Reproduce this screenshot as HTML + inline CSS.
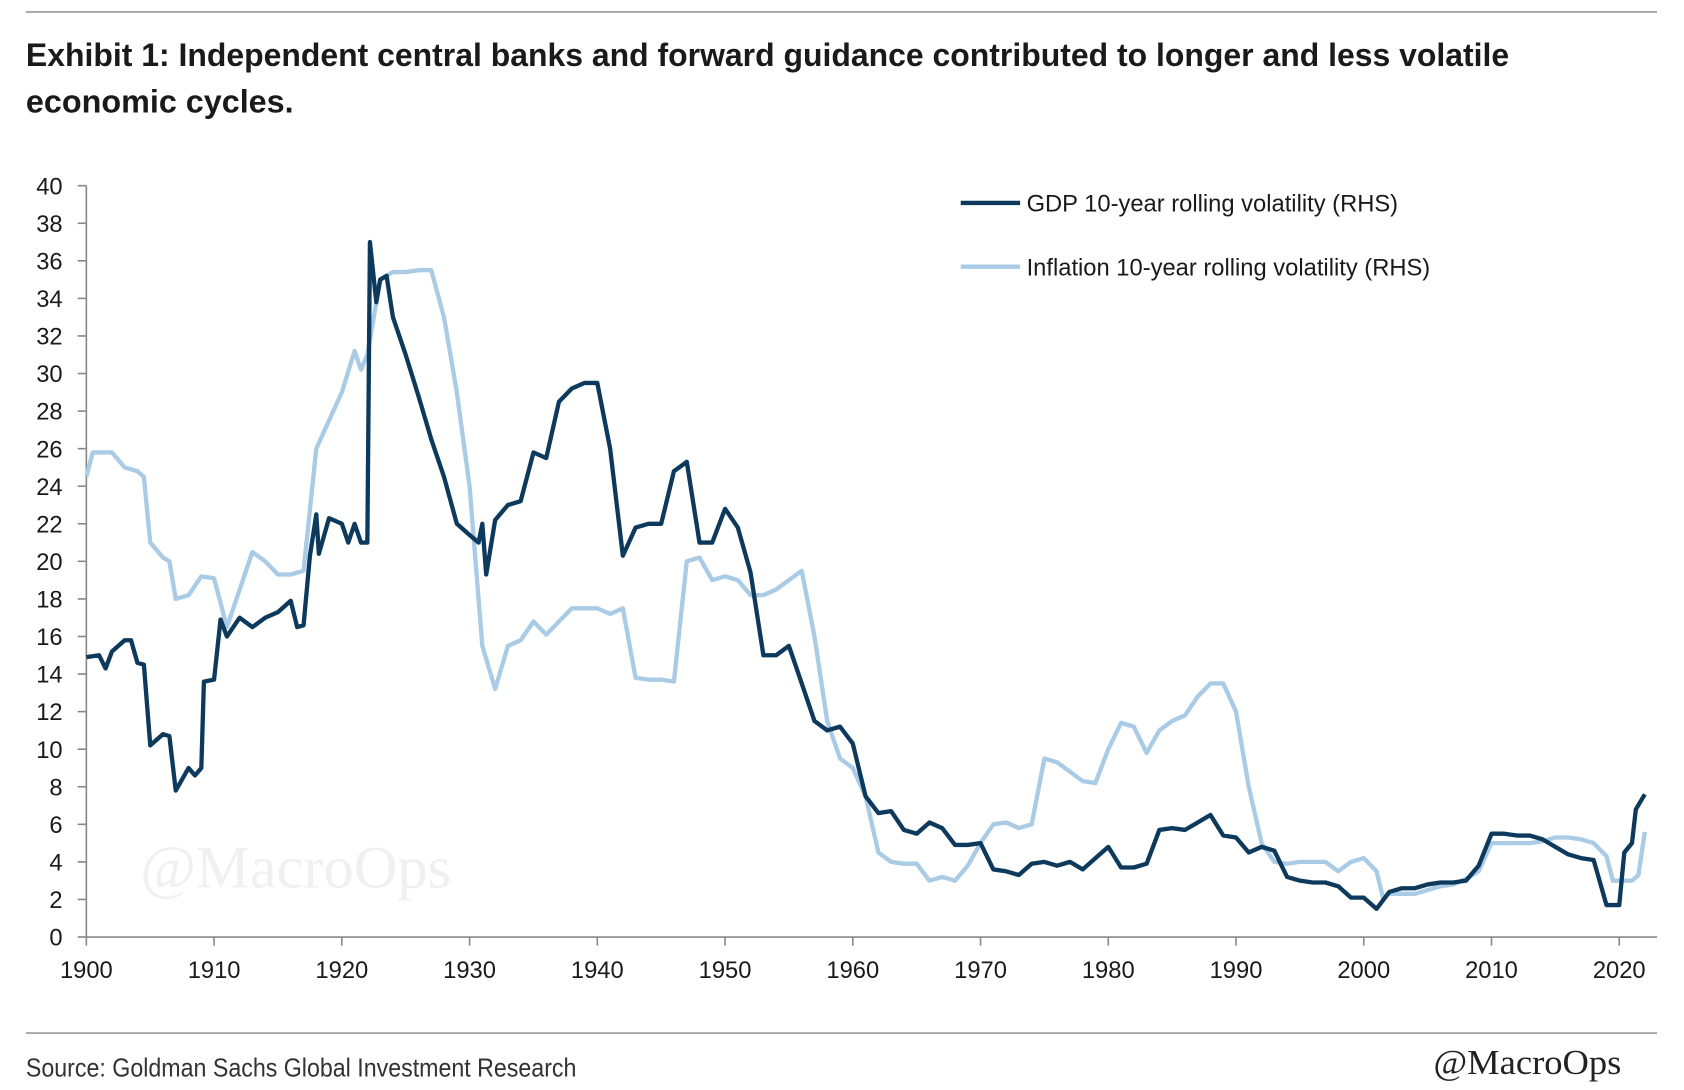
<!DOCTYPE html>
<html><head><meta charset="utf-8"><style>
html,body{margin:0;padding:0;background:#fff;}
svg{display:block;}
text{font-family:"Liberation Sans",sans-serif;}
</style></head><body>
<svg id="chart" width="1684" height="1090" viewBox="0 0 1560 1009.7" xmlns="http://www.w3.org/2000/svg">
<line x1="24" y1="11" x2="1535" y2="11" stroke="#999" stroke-width="1.5"/>
<text x="24" y="61" font-size="30" font-weight="bold" textLength="1374" lengthAdjust="spacingAndGlyphs" fill="#1a1a1a" style="font-family:'Liberation Sans Narrow','Liberation Sans',sans-serif">Exhibit 1: Independent central banks and forward guidance contributed to longer and less volatile</text>
<text x="24" y="104" font-size="30" font-weight="bold" textLength="248" lengthAdjust="spacingAndGlyphs" fill="#1a1a1a" style="font-family:'Liberation Sans Narrow','Liberation Sans',sans-serif">economic cycles.</text>
<text x="130" y="822" font-size="56" fill="#f0f0f0" style="font-family:'Liberation Serif',serif">@MacroOps</text>
<g id="axes"></g>
<g id="series"></g>
<g>
<line x1="890" y1="188" x2="945" y2="188" stroke="#0d3a5c" stroke-width="4"/>
<text x="951" y="196" font-size="22" fill="#1a1a1a">GDP 10-year rolling volatility (RHS)</text>
<line x1="890" y1="247" x2="945" y2="247" stroke="#a9cbe6" stroke-width="4"/>
<text x="951" y="255" font-size="22" fill="#1a1a1a">Inflation 10-year rolling volatility (RHS)</text>
</g>
<line x1="24" y1="957" x2="1535" y2="957" stroke="#999" stroke-width="1.5"/>
<text x="24" y="997" font-size="24" textLength="510" lengthAdjust="spacingAndGlyphs" fill="#333" style="font-family:'Liberation Sans Narrow','Liberation Sans',sans-serif">Source: Goldman Sachs Global Investment Research</text>
<text x="1328" y="995" font-size="32" textLength="174" lengthAdjust="spacingAndGlyphs" fill="#222" style="font-family:'Liberation Serif',serif">@MacroOps</text>
</svg>
<script>
const yTicks = [0,2,4,6,8,10,12,14,16,18,20,22,24,26,28,30,32,34,36,38,40];
const xTicks = [1900,1910,1920,1930,1940,1950,1960,1970,1980,1990,2000,2010,2020];
const gdpYears = [1900,1901,1901.5,1902,1903,1903.5,1904,1904.5,1905,1906,1906.5,1907,1908,1908.5,1909,1909.2,1910,1910.5,1911,1912,1913,1914,1915,1916,1916.5,1917,1917.5,1918,1918.2,1919,1920,1920.5,1921,1921.5,1922,1922.2,1922.7,1923,1923.5,1924,1925,1926,1927,1928,1929,1930,1930.7,1931,1931.3,1932,1933,1934,1935,1936,1937,1938,1939,1940,1941,1942,1943,1944,1945,1946,1947,1948,1949,1950,1951,1952,1953,1954,1955,1956,1957,1958,1959,1960,1961,1962,1963,1964,1965,1966,1967,1968,1969,1970,1971,1972,1973,1974,1975,1976,1977,1978,1979,1980,1981,1982,1983,1984,1985,1986,1987,1988,1989,1990,1991,1992,1993,1994,1995,1996,1997,1998,1999,2000,2001,2002,2003,2004,2005,2006,2007,2008,2009,2010,2011,2012,2013,2014,2015,2016,2017,2018,2019,2020,2020.4,2021,2021.3,2022];
const gdpValues = [14.9,15,14.3,15.2,15.8,15.8,14.6,14.5,10.2,10.8,10.7,7.8,9,8.6,9,13.6,13.7,16.9,16,17,16.5,17,17.3,17.9,16.5,16.6,20.3,22.5,20.4,22.3,22,21,22,21,21,37,33.8,35,35.2,33,31,28.8,26.5,24.5,22,21.4,21,22,19.3,22.2,23,23.2,25.8,25.5,28.5,29.2,29.5,29.5,26,20.3,21.8,22,22,24.8,25.3,21,21,22.8,21.8,19.4,15,15,15.5,13.5,11.5,11,11.2,10.3,7.5,6.6,6.7,5.7,5.5,6.1,5.8,4.9,4.9,5,3.6,3.5,3.3,3.9,4,3.8,4,3.6,4.2,4.8,3.7,3.7,3.9,5.7,5.8,5.7,6.1,6.5,5.4,5.3,4.5,4.8,4.6,3.2,3,2.9,2.9,2.7,2.1,2.1,1.5,2.4,2.6,2.6,2.8,2.9,2.9,3,3.8,5.5,5.5,5.4,5.4,5.2,4.8,4.4,4.2,4.1,1.7,1.7,4.5,5,6.8,7.6];
const infYears = [1900,1900.5,1902,1903,1904,1904.5,1905,1906,1906.5,1907,1908,1909,1910,1911,1912,1913,1914,1915,1916,1917,1918,1919,1920,1921,1921.5,1922,1923,1924,1925,1926,1927,1928,1929,1930,1931,1932,1933,1934,1935,1936,1937,1938,1939,1940,1941,1942,1943,1944,1945,1946,1947,1948,1949,1950,1951,1952,1953,1954,1955,1956,1957,1958,1959,1960,1961,1962,1963,1964,1965,1966,1967,1968,1969,1970,1971,1972,1973,1974,1975,1976,1977,1978,1979,1980,1981,1982,1983,1984,1985,1986,1987,1988,1989,1990,1991,1992,1993,1994,1995,1996,1997,1998,1999,2000,2001,2001.5,2002,2003,2004,2005,2006,2007,2008,2009,2010,2011,2012,2013,2014,2015,2016,2017,2018,2019,2019.5,2020,2021,2021.5,2022];
const infValues = [24.5,25.8,25.8,25,24.8,24.5,21,20.2,20,18,18.2,19.2,19.1,16.5,18.5,20.5,20,19.3,19.3,19.5,26,27.5,29,31.2,30.2,31,35,35.4,35.4,35.5,35.5,33,29,24,15.5,13.2,15.5,15.8,16.8,16.1,16.8,17.5,17.5,17.5,17.2,17.5,13.8,13.7,13.7,13.6,20,20.2,19,19.2,19,18.2,18.2,18.5,19,19.5,16,11.5,9.5,9,7.5,4.5,4,3.9,3.9,3,3.2,3,3.8,5,6,6.1,5.8,6,9.5,9.3,8.8,8.3,8.2,10,11.4,11.2,9.8,11,11.5,11.8,12.8,13.5,13.5,12,8,5,4,3.9,4,4,4,3.5,4,4.2,3.5,2.1,2.3,2.3,2.3,2.5,2.7,2.8,3.1,3.5,5,5,5,5,5.1,5.3,5.3,5.2,5,4.3,3,3,3,3.3,5.6];

const NS='http://www.w3.org/2000/svg';
const X0=80, X1=1500, Y0=868, Y1=172;
const xScale = yr => X0 + (yr-1900)*(X1-X0)/120;
const yScale = v => Y0 - v*(Y0-Y1)/40;
const axes=document.getElementById('axes');
const series=document.getElementById('series');
function mk(tag,attrs,parent){const e=document.createElementNS(NS,tag);for(const k in attrs)e.setAttribute(k,attrs[k]);parent.appendChild(e);return e;}

const yAxis=mk('line',{x1:X0,y1:Y1,x2:X0,y2:Y0,stroke:'#888','stroke-width':1.5},axes);


const xAxis=mk('line',{x1:X0,y1:Y0,x2:1535,y2:Y0,stroke:'#888','stroke-width':1.5},axes);



yTicks.forEach(v=>{
  const y=yScale(v);
  const t=mk('line',{x1:X0-8,y1:y,x2:X0,y2:y,stroke:'#888','stroke-width':1.5},axes);
  
  
  const l=mk('text',{x:58,y:y+8,'font-size':22,'text-anchor':'end',fill:'#1a1a1a'},axes);
  l.textContent=v;
  
  
});
xTicks.forEach(yr=>{
  const x=xScale(yr);
  const t=mk('line',{x1:x,y1:Y0,x2:x,y2:Y0+8,stroke:'#888','stroke-width':1.5},axes);
  
  
  const l=mk('text',{x:x,y:906,'font-size':22,'text-anchor':'middle',fill:'#1a1a1a'},axes);
  l.textContent=yr;
  
  
});

function path(years,vals){return years.map((y,i)=>(i?'L':'M')+xScale(y).toFixed(1)+','+yScale(vals[i]).toFixed(1)).join(' ');}
const inf=mk('path',{d:path(infYears,infValues),fill:'none',stroke:'#a9cbe6','stroke-width':4,'stroke-linejoin':'round'},series);


const gdp=mk('path',{d:path(gdpYears,gdpValues),fill:'none',stroke:'#0d3a5c','stroke-width':4,'stroke-linejoin':'round'},series);


</script>
</body></html>
